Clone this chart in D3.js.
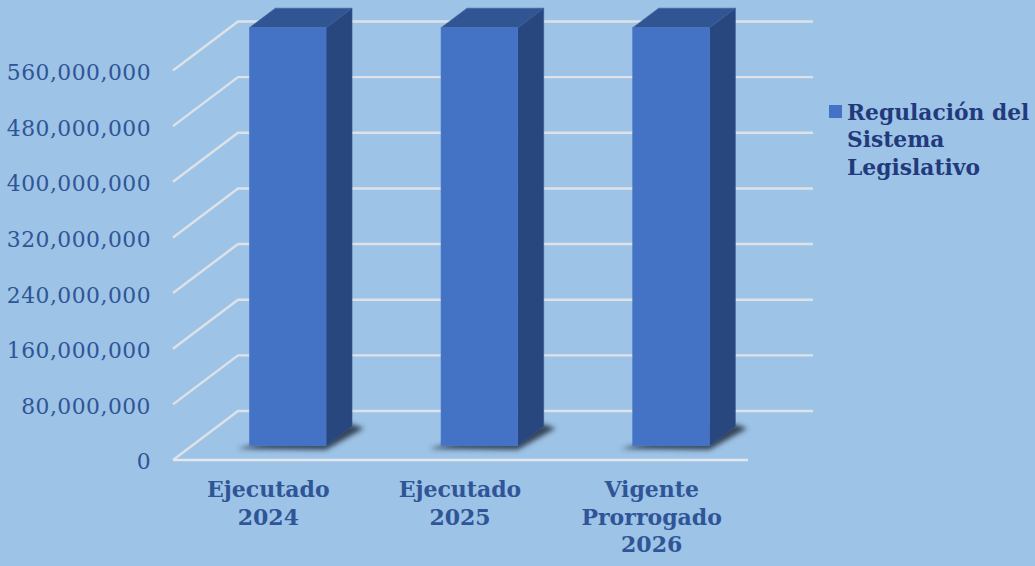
<!DOCTYPE html>
<html>
<head>
<meta charset="utf-8">
<script src="https://cdn.jsdelivr.net/npm/d3@7"></script>
<style>
html, body { margin: 0; padding: 0; background: #9dc3e6; overflow: hidden; }
text { font-family: "DejaVu Serif", serif; }
</style>
</head>
<body>
<script>
var categories = [["Ejecutado", "2024"], ["Ejecutado", "2025"], ["Vigente", "Prorrogado", "2026"]];
var values = [601000000, 601000000, 601000000];
var tickValues = [0, 80000000, 160000000, 240000000, 320000000, 400000000, 480000000, 560000000];
var legendLines = ["Regulación del", "Sistema", "Legislativo"];

var width = 1035, height = 566;

// floor front edge and how far the 3d depth goes
var x0 = 173, x1 = 748, y0 = 460, yTop = 70.5;
var depth = {x: 65, y: -49};
var barFront = 0.29, barBack = 0.69;

var svg = d3.select("body").append("svg")
    .attr("width", width)
    .attr("height", height)
    .style("display", "block");

svg.append("rect").attr("width", width).attr("height", height).attr("fill", "#9dc3e6");

var defs = svg.append("defs");
defs.append("filter").attr("id", "blur")
    .attr("x", "-30%").attr("y", "-30%").attr("width", "160%").attr("height", "160%")
  .append("feGaussianBlur").attr("stdDeviation", 2.4);

var x = d3.scaleBand().domain(d3.range(categories.length)).range([x0, x1]);
var y = d3.scaleLinear().domain([0, 560000000]).range([y0, yTop]);

var line = d3.line();

// gridlines: up the side wall then along the back wall
svg.append("g").selectAll("path")
    .data(tickValues)
    .enter().append("path")
    .attr("d", function(d) {
        return line([[x0, y(d)], [x0 + depth.x, y(d) + depth.y], [x1 + depth.x, y(d) + depth.y]]);
    })
    .attr("fill", "none")
    .attr("stroke", "#dde2e8")
    .attr("stroke-width", 2.4);

// front edge of the floor
svg.append("path")
    .attr("d", line([[x0, y0], [x1, y0]]))
    .attr("stroke", "#e4e8ee")
    .attr("stroke-width", 2.4);

// y axis
var yAxis = svg.append("g")
    .attr("transform", "translate(" + (x0 - 22) + ",2)")
    .call(d3.axisLeft(y).tickValues(tickValues).tickFormat(d3.format(",")).tickSize(0).tickPadding(0));
yAxis.select(".domain").remove();
yAxis.selectAll("text")
    .style("font-family", '"DejaVu Serif", serif')
    .style("letter-spacing", "0.5px")
    .attr("font-size", 21.8)
    .attr("fill", "#2f5597");

var barW = x.bandwidth() * 0.4;
var bars = svg.append("g").selectAll("g")
    .data(values)
    .enter().append("g");

function left(i) { return x(i) + x.bandwidth() / 2 - barW / 2 + depth.x * barFront; }
function bottom() { return y(0) + depth.y * barFront; }
function top_(d) { return bottom() - (y(0) - y(d)); }
var dx = depth.x * (barBack - barFront), dy = depth.y * (barBack - barFront);

// shadow on the floor
bars.append("path")
    .attr("d", function(d, i) {
        var l = left(i), b = bottom();
        return line([[l - 12, b + 3], [l + barW, b + 4], [l + barW + dx + 12, b + dy + 2], [l + barW + dx, b + dy - 2], [l, b]]) + "Z";
    })
    .attr("fill", "#35445a")
    .attr("filter", "url(#blur)");

// side
bars.append("path")
    .attr("d", function(d, i) {
        var l = left(i) + barW, b = bottom(), t = top_(d);
        return line([[l, b], [l + dx, b + dy], [l + dx, t + dy], [l, t]]) + "Z";
    })
    .attr("fill", "#29477f")
    .attr("stroke", "#2f5597")
    .attr("stroke-width", 0.6);

// top
bars.append("path")
    .attr("d", function(d, i) {
        var l = left(i), t = top_(d);
        return line([[l, t], [l + barW, t], [l + barW + dx, t + dy], [l + dx, t + dy]]) + "Z";
    })
    .attr("fill", "#315492")
    .attr("stroke", "#3a62a8")
    .attr("stroke-width", 0.6);

// front
bars.append("rect")
    .attr("x", function(d, i) { return left(i); })
    .attr("y", function(d) { return top_(d); })
    .attr("width", barW)
    .attr("height", function(d) { return bottom() - top_(d); })
    .attr("fill", "#4472c4")
    .attr("stroke", "#4f7ccb")
    .attr("stroke-width", 0.6);

// category labels
svg.append("g").selectAll("text")
    .data(categories)
    .enter().append("text")
    .attr("text-anchor", "middle")
    .attr("font-size", 22)
    .attr("font-weight", "bold")
    .attr("fill", "#2f5597")
    .each(function(d, i) {
        var t = d3.select(this);
        d.forEach(function(s, j) {
            t.append("tspan")
                .attr("x", x(i) + x.bandwidth() / 2 - 0.5)
                .attr("y", 497 + j * 27.5)
                .text(s);
        });
    });

// legend
svg.append("rect")
    .attr("x", 829).attr("y", 105)
    .attr("width", 13).attr("height", 13)
    .attr("fill", "#4472c4");

svg.append("g").selectAll("text")
    .data(legendLines)
    .enter().append("text")
    .attr("x", 847)
    .attr("y", function(d, i) { return 119.5 + i * 27.5; })
    .attr("font-size", 21.8)
    .attr("font-weight", "bold")
    .attr("fill", "#223a7c")
    .text(function(d) { return d; });
</script>
</body>
</html>
